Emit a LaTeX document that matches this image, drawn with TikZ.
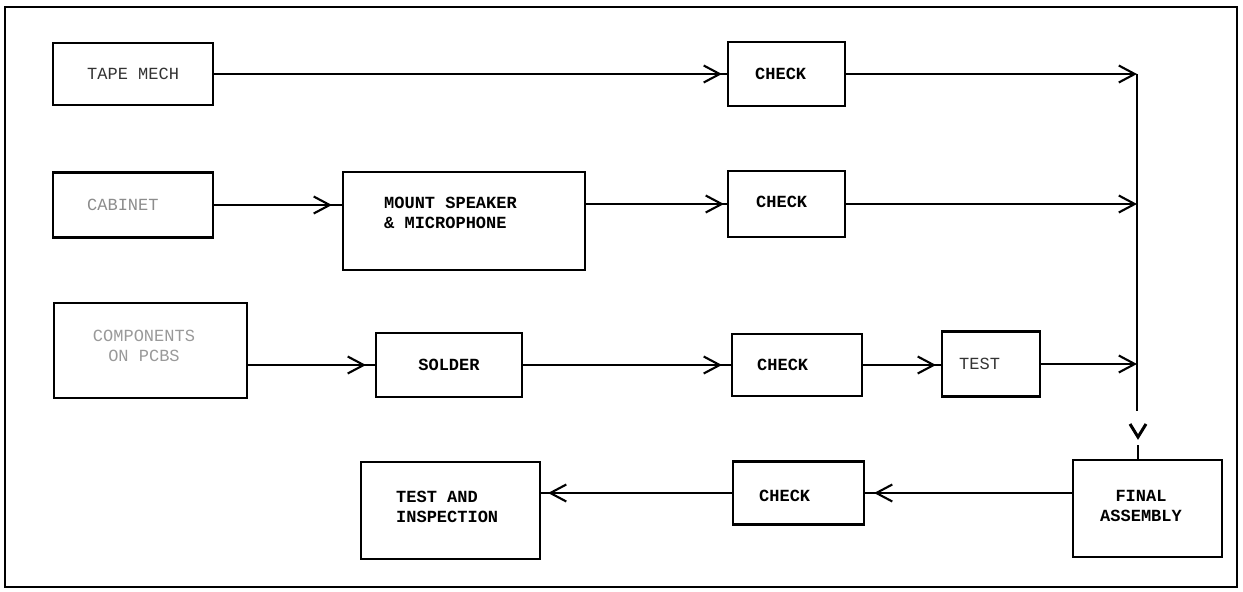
\documentclass[tikz,border=0pt]{standalone}
\usepackage{fontspec}
\newfontfamily\mono{Liberation Mono}
\usetikzlibrary{arrows.meta,decorations.markings}
\tikzset{
  chev/.tip={Straight Barb[length=16pt,width=17pt]},
  box/.style={draw, line width=2.1pt, inner sep=0pt},
  conn/.style={line width=2.1pt},
  arr/.style={postaction={decorate}, decoration={markings, mark=at position -#1 with {\arrow{Straight Barb[length=16pt,width=17pt]}}}},
  lab/.style={inner sep=0pt, align=left, font=\mono\bfseries\fontsize{17pt}{20pt}\selectfont},
  labr/.style={lab, font=\mono\fontsize{17pt}{20pt}\selectfont},
}
\begin{document}
\begin{tikzpicture}[x=1pt,y=-1pt]
\useasboundingbox (0,0) rectangle (1243,592);
\draw[line width=2pt] (5,7) rectangle (1237,587);

\node[box, minimum width=160pt, minimum height=62pt, label={[labr, text=black!80, anchor=west, xshift=35pt]west:TAPE MECH}] (tape) at (133,74) {};
\node[box, minimum width=117pt, minimum height=64pt, label={[lab, anchor=west, xshift=28pt]west:CHECK}] (chk1) at (786.5,74) {};
\node[box, minimum width=160pt, minimum height=65pt, label={[labr, text=black!45, anchor=west, xshift=35pt]west:CABINET}] (cab) at (133,205) {};
\node[box, minimum width=242pt, minimum height=98pt, label={[lab, anchor=west, xshift=42pt, yshift=8pt]west:MOUNT SPEAKER\\\& MICROPHONE}] (mount) at (464,221) {};
\node[box, minimum width=117pt, minimum height=66pt, label={[lab, anchor=west, xshift=29pt, yshift=2pt]west:CHECK}] (chk2) at (786.5,204) {};
\node[box, minimum width=193pt, minimum height=95pt, label={[labr, align=center, text=black!40, xshift=-6.5pt, yshift=4.5pt]center:COMPONENTS\\ON PCBS}] (comp) at (150.5,350.5) {};
\node[box, minimum width=146pt, minimum height=64pt, label={[lab]center:SOLDER}] (solder) at (449,365) {};
\node[box, minimum width=130pt, minimum height=62pt, label={[lab, anchor=west, xshift=26pt]west:CHECK}] (chk3) at (797,365) {};
\node[box, minimum width=98pt, minimum height=65pt, label={[labr, text=black!80, anchor=west, xshift=18pt]west:TEST}] (test) at (991,364) {};
\node[box, line width=2.5pt, minimum width=149pt, minimum height=97pt, label={[lab, align=center, xshift=-6.5pt, yshift=3pt]center:FINAL\\ASSEMBLY}] (final) at (1147.5,508.5) {};
\node[box, minimum width=131pt, minimum height=63pt, label={[lab, anchor=west, xshift=27pt, yshift=-3pt]west:CHECK}] (chk4) at (798.5,493) {};
\node[box, minimum width=179pt, minimum height=97pt, label={[lab, anchor=west, xshift=36pt, yshift=3.5pt]west:TEST AND\\INSPECTION}] (tai) at (450.5,510.5) {};

\coordinate (j1) at (1137,74);
\coordinate (j2) at (1137,204);
\coordinate (j3) at (1137,364);
\coordinate (jend) at (1137,411);
\coordinate (vl) at (1130,424);
\coordinate (vt) at (1138,437);
\coordinate (vr) at (1146,424);
\coordinate (vs) at (1138,445);

\draw[conn, arr=5pt] (tape.east) -- (chk1.west);
\draw[conn, arr=10pt] (cab.east) -- (mount.west |- cab.east);
\draw[conn, arr=3pt] (mount.east |- chk2.west) -- (chk2.west);
\draw[conn, arr=9pt] (comp.east |- solder.west) -- (solder.west);
\draw[conn, arr=9pt] (solder.east) -- (chk3.west);
\draw[conn, arr=5pt] (chk3.east) -- (test.west |- chk3.east);
\draw[conn, -{chev}] (chk1.east) -- (j1);
\draw[conn, -{chev}] (chk2.east) -- (j2);
\draw[conn, -{chev}] (test.east) -- (j3);
\draw[conn] (j1) -- (jend);
\draw[line width=3pt] (vl) -- (vt) -- (vr);
\draw[conn] (vs) -- (final.north -| vs);
\draw[conn, arr=9pt] (final.west |- chk4.east) -- (chk4.east);
\draw[conn, arr=7pt] (chk4.west) -- (tai.east |- chk4.west);
\end{tikzpicture}
\end{document}
